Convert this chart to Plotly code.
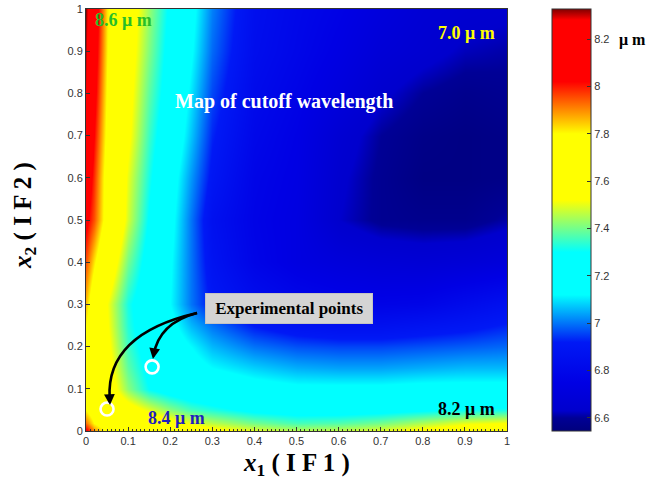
import plotly.graph_objects as go

# ---- data ----
x_vals = [0, 0.02, 0.05, 0.1, 0.15, 0.2, 0.25, 0.3, 0.4, 0.5, 0.6, 0.7, 0.8, 0.9, 1.0]
y_vals = [0, 0.02, 0.05, 0.1, 0.15, 0.2, 0.25, 0.3, 0.4, 0.5, 0.6, 0.7, 0.8, 0.9, 1.0]

row_y000 = [8.05, 7.90, 7.78, 7.74, 7.70, 7.66, 7.61, 7.56, 7.50, 7.46, 7.47, 7.50, 7.55, 7.60, 7.62]
row_y002 = [7.92, 7.80, 7.72, 7.68, 7.62, 7.56, 7.50, 7.46, 7.40, 7.36, 7.37, 7.40, 7.45, 7.50, 7.52]
row_y005 = [7.80, 7.72, 7.66, 7.58, 7.50, 7.42, 7.36, 7.33, 7.28, 7.26, 7.26, 7.27, 7.29, 7.31, 7.32]
row_y010 = [7.72, 7.68, 7.60, 7.42, 7.30, 7.25, 7.22, 7.20, 7.16, 7.14, 7.14, 7.14, 7.15, 7.15, 7.15]
row_y015 = [7.72, 7.66, 7.57, 7.38, 7.27, 7.21, 7.16, 7.12, 7.08, 7.05, 7.04, 7.04, 7.05, 7.06, 7.06]
row_y020 = [7.75, 7.65, 7.55, 7.35, 7.25, 7.18, 7.12, 7.06, 7.00, 6.97, 6.96, 6.96, 6.97, 6.98, 6.99]
row_y025 = [7.80, 7.68, 7.53, 7.33, 7.23, 7.15, 7.06, 7.00, 6.92, 6.88, 6.86, 6.86, 6.88, 6.90, 6.93]
row_y030 = [7.85, 7.70, 7.52, 7.32, 7.22, 7.12, 7.00, 6.91, 6.84, 6.80, 6.78, 6.77, 6.78, 6.82, 6.86]
row_y040 = [7.95, 7.82, 7.63, 7.40, 7.25, 7.13, 7.00, 6.88, 6.78, 6.73, 6.70, 6.68, 6.67, 6.68, 6.70]
row_y050 = [8.05, 7.95, 7.74, 7.48, 7.29, 7.15, 7.00, 6.86, 6.77, 6.73, 6.63, 6.59, 6.58, 6.58, 6.61]
row_y060 = [8.12, 7.98, 7.74, 7.50, 7.32, 7.17, 7.03, 6.90, 6.78, 6.74, 6.64, 6.59, 6.56, 6.56, 6.57]
row_y070 = [8.22, 8.02, 7.77, 7.54, 7.35, 7.21, 7.07, 6.93, 6.80, 6.75, 6.66, 6.60, 6.57, 6.56, 6.57]
row_y080 = [8.28, 8.06, 7.79, 7.56, 7.38, 7.24, 7.10, 6.96, 6.82, 6.77, 6.71, 6.64, 6.60, 6.58, 6.59]
row_y090 = [8.30, 8.09, 7.81, 7.58, 7.41, 7.26, 7.13, 6.99, 6.84, 6.79, 6.74, 6.68, 6.65, 6.62, 6.61]
row_y100 = [8.32, 8.12, 7.82, 7.60, 7.43, 7.28, 7.15, 7.01, 6.85, 6.80, 6.76, 6.71, 6.67, 6.65, 6.64]

z_rows = [row_y000, row_y002, row_y005, row_y010, row_y015, row_y020, row_y025,
          row_y030, row_y040, row_y050, row_y060, row_y070, row_y080, row_y090, row_y100]

exp_x = [0.05, 0.157]
exp_y = [0.052, 0.152]

z_min, z_max = 6.545, 8.327
cb_ticks = [6.6, 6.8, 7.0, 7.2, 7.4, 7.6, 7.8, 8.0, 8.2]
cb_ticktext = ["6.6", "6.8", "7", "7.2", "7.4", "7.6", "7.8", "8", "8.2"]

# colour map (value stops -> colours), MATLAB-jet like with plateaus
cmap_vals = [6.545, 6.60, 6.63, 6.75, 6.92, 7.12, 7.30, 7.52, 7.80, 8.02, 8.28, 8.327]
cmap_cols = ["rgb(0,0,125)", "rgb(0,0,150)", "rgb(0,0,205)", "rgb(0,0,228)", "rgb(0,25,245)",
             "rgb(0,255,255)", "rgb(0,255,255)", "rgb(255,255,0)", "rgb(255,255,0)",
             "rgb(255,0,0)", "rgb(255,0,0)", "rgb(128,0,0)"]
colorscale = [[(v - z_min) / (z_max - z_min), c] for v, c in zip(cmap_vals, cmap_cols)]
colorscale[0][0] = 0.0
colorscale[-1][0] = 1.0

fig = go.Figure()
fig.add_trace(go.Heatmap(
    x=x_vals, y=y_vals, z=z_rows, zmin=z_min, zmax=z_max,
    colorscale=colorscale, zsmooth="best",
    colorbar=dict(x=1.107, xanchor="left", y=0.5, yanchor="middle",
                  len=1.0, lenmode="fraction", thickness=39, thicknessmode="pixels",
                  outlinewidth=1, outlinecolor="#333", xpad=0, ypad=0,
                  ticks="inside", ticklen=4, tickcolor="#333",
                  tickvals=cb_ticks, ticktext=cb_ticktext,
                  tickfont=dict(family="Liberation Sans", size=11, color="#333")),
    hoverinfo="skip"))

fig.add_trace(go.Scatter(
    x=exp_x, y=exp_y, mode="markers",
    marker=dict(symbol="circle-open", size=13, color="white", line=dict(width=2.6, color="white")),
    showlegend=False, hoverinfo="skip"))

# curved arrows from the label box to the experimental points
start = (0.2637, 0.2796)
ends = [(0.057, 0.0616), (0.159, 0.1706)]
ctrls = [(0.0475, 0.2299), (0.173, 0.256)]
shapes = []
annotations = []
for (ex, ey), (cx, cy) in zip(ends, ctrls):
    tx, ty = ex + 0.10 * (cx - ex), ey + 0.10 * (cy - ey)
    shapes.append(dict(type="path", xref="x", yref="y", layer="above",
                       path=f"M {start[0]:.4f},{start[1]:.4f} Q {cx:.4f},{cy:.4f} {tx:.4f},{ty:.4f}",
                       line=dict(color="black", width=2.6)))
    annotations.append(dict(x=ex, y=ey, ax=ex + 0.16 * (cx - ex), ay=ey + 0.16 * (cy - ey),
                            xref="x", yref="y", axref="x", ayref="y", text="",
                            showarrow=True, arrowhead=2, arrowsize=0.9, arrowwidth=2.4,
                            arrowcolor="black", standoff=0))

serif = "Liberation Serif"
annotations += [
    dict(x=0.088, y=0.973, xref="x", yref="y", text="<b>8.6 μ m</b>", showarrow=False,
         font=dict(family=serif, size=18, color="rgb(40,190,40)")),
    dict(x=0.903, y=0.943, xref="x", yref="y", text="<b>7.0 μ m</b>", showarrow=False,
         font=dict(family=serif, size=18, color="rgb(255,255,0)")),
    dict(x=0.47, y=0.782, xref="x", yref="y", text="<b>Map of cutoff wavelength</b>", showarrow=False,
         font=dict(family=serif, size=20, color="white")),
    dict(x=0.214, y=0.030, xref="x", yref="y", text="<b>8.4 μ m</b>", showarrow=False,
         font=dict(family=serif, size=18, color="rgb(30,30,190)")),
    dict(x=0.903, y=0.052, xref="x", yref="y", text="<b>8.2 μ m</b>", showarrow=False,
         font=dict(family=serif, size=18, color="black")),
    dict(x=0.482, y=0.291, xref="x", yref="y", text="&nbsp;<b>Experimental points</b>&nbsp;", showarrow=False,
         font=dict(family=serif, size=17, color="black"), bgcolor="rgb(212,212,212)",
         bordercolor="rgb(195,195,195)", borderwidth=1, borderpad=5),
    dict(x=1.299, y=0.927, xref="paper", yref="paper", xanchor="center", yanchor="middle",
         text="<b>μ m</b>", showarrow=False,
         font=dict(family=serif, size=16, color="black")),
    dict(x=0.5, y=-0.08, xref="paper", yref="paper", xanchor="center", yanchor="middle",
         text="<b><i>x</i><sub>1</sub> ( I F 1 )</b>", showarrow=False,
         font=dict(family=serif, size=25, color="black")),
    dict(x=-0.145, y=0.512, xref="paper", yref="paper", xanchor="center", yanchor="middle",
         textangle=-90,
         text="<b><i>x</i><sub>2</sub> ( I F 2 )</b>", showarrow=False,
         font=dict(family=serif, size=25, color="black")),
]

axis_common = dict(range=[0, 1], dtick=0.1, tick0=0, ticks="inside", ticklen=4, tickcolor="#333",
                   showline=True, linecolor="#333", linewidth=1, mirror=True, showgrid=False,
                   zeroline=False, tickfont=dict(family="Liberation Sans", size=11, color="#333"))

fig.update_layout(
    width=649, height=487,
    margin=dict(l=86, r=142, t=9, b=56, autoexpand=False),
    paper_bgcolor="white", plot_bgcolor="white",
    xaxis=dict(**axis_common, minor=dict(ticks="inside", ticklen=2, dtick=0.01, tickcolor="#333")),
    yaxis=dict(**axis_common),
    shapes=shapes, annotations=annotations, showlegend=False,
)

fig.write_html("out.html")
